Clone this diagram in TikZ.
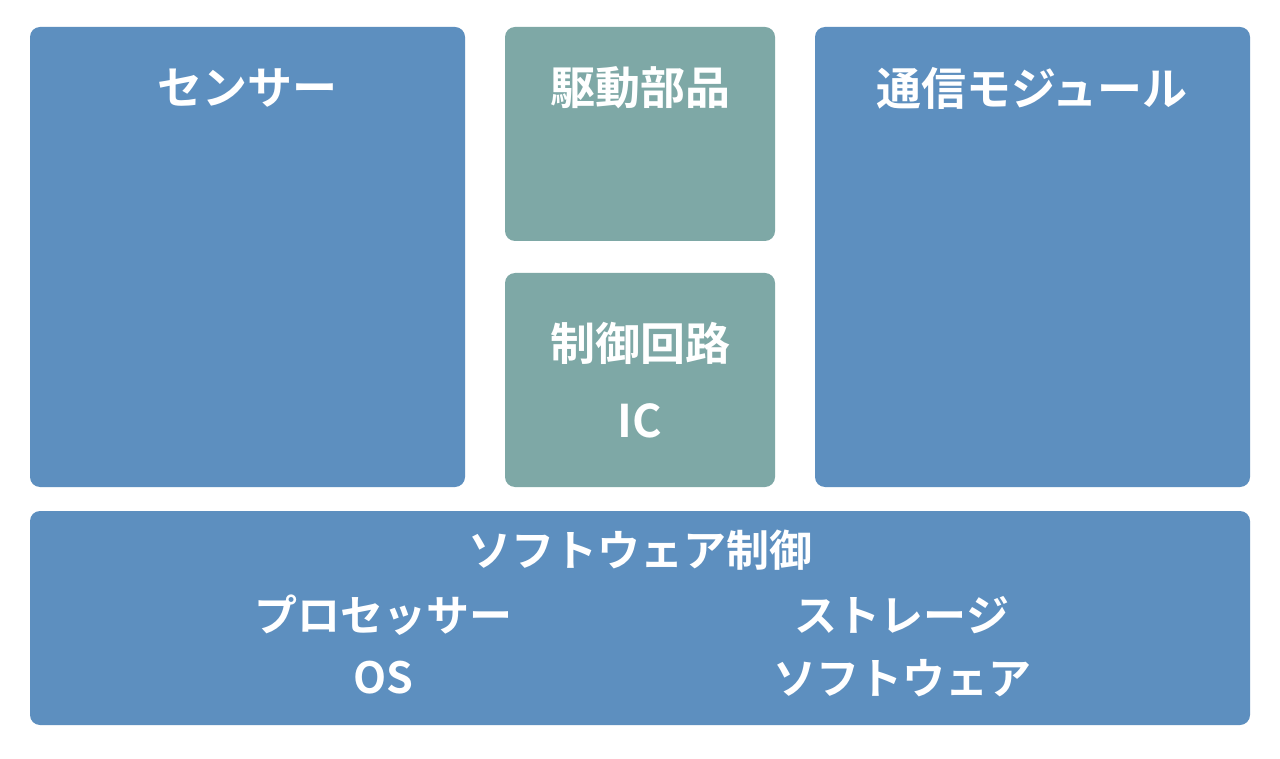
\documentclass[tikz,border=0pt]{standalone}
\usepackage{fontspec}
\setmainfont{Noto Sans CJK JP}[BoldFont={* Bold}]
\definecolor{boxblue}{HTML}{5D8FBF}
\definecolor{boxgreen}{HTML}{7EA8A6}
\tikzset{
  panel/.style={rounded corners=10pt, inner sep=0pt, outer sep=0pt},
  lbl/.style={text=white, font=\bfseries\fontsize{45}{50}\selectfont, inner sep=0pt, anchor=center},
  lbls/.style={lbl, font=\bfseries\fontsize{43}{48}\selectfont}
}
\begin{document}
\begin{tikzpicture}[x=1pt,y=-1pt]
\useasboundingbox[fill=white] (0,0) rectangle (1280,759);
\fill[panel, boxblue] (30,27) rectangle (465,487);
\fill[panel, boxgreen] (505,27) rectangle (775,241);
\fill[panel, boxgreen] (505,273) rectangle (775,487);
\fill[panel, boxblue] (815,27) rectangle (1250,487);
\fill[panel, boxblue] (30,511) rectangle (1250,725);
\node[lbl] (sensor) at (247,88) {センサー};
\node[lbl] (drive) at (640,88) {駆動部品};
\node[lbl] (comm) at (1032,88) {通信モジュール};
\node[lbl] (ctrl) at (640,343) {制御回路};
\node[lbl] (ic) at (640,421) {IC};
\node[lbls] (sw) at (640,550) {ソフトウェア制御};
\node[lbls] (proc) at (383,615) {プロセッサー};
\node[lbls] (os) at (383,678) {OS};
\node[lbls] (stor) at (902,615) {ストレージ};
\node[lbls] (soft) at (902,678) {ソフトウェア};
\end{tikzpicture}
\end{document}
